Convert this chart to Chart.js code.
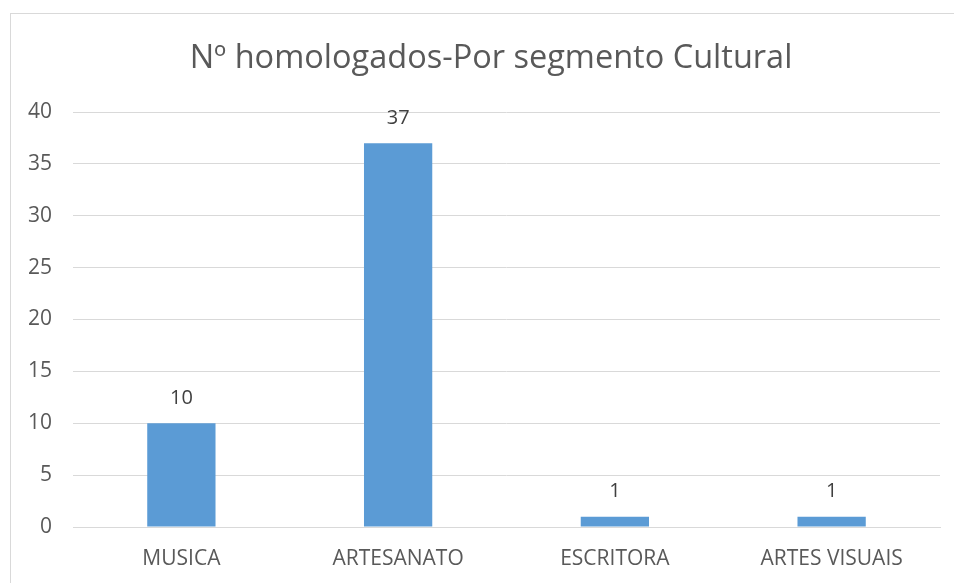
<!DOCTYPE html>
<html>
<head>
<meta charset="utf-8">
<script src="https://cdn.jsdelivr.net/npm/chart.js@4"></script>
<style>
  body { margin: 0; background: #fff; width: 954px; height: 583px; overflow: hidden; position: relative; }
  #box { position: absolute; left: 10px; top: 13px; width: 960px; height: 600px; border: 1px solid #d9d9d9; background: #fff; }
  #chart { position: absolute; left: 0; top: 0; }
</style>
</head>
<body>
<div id="box"><canvas id="chart" width="943" height="569"></canvas></div>
<script>
const categories = ["MUSICA", "ARTESANATO", "ESCRITORA", "ARTES VISUAIS"];
const valores = [10, 37, 1, 1];
const titulo = "Nº homologados-Por segmento Cultural";

const fonte = "'Open Sans', 'Noto Sans', sans-serif";

// título centrado na caixa inteira do gráfico (que passa da borda direita)
const tituloPlugin = {
    id: "tituloPlugin",
    afterDraw(chart) {
        const ctx = chart.ctx;
        ctx.save();
        ctx.font = "32.5px " + fonte;
        ctx.fillStyle = "#595959";
        ctx.textAlign = "center";
        ctx.textBaseline = "middle";
        ctx.fillText(titulo, 480, 45);
        ctx.restore();
    }
};

// rótulos de dados acima das barras
const rotulos = {
    id: "rotulos",
    afterDatasetsDraw(chart) {
        const ctx = chart.ctx;
        const meta = chart.getDatasetMeta(0);
        ctx.save();
        ctx.font = "20px " + fonte;
        ctx.fillStyle = "#404040";
        ctx.textAlign = "center";
        ctx.textBaseline = "middle";
        meta.data.forEach((bar, i) => {
            ctx.fillText(String(valores[i]), bar.x, bar.y - 25);
        });
        ctx.restore();
    }
};

const ctx = document.getElementById("chart").getContext("2d");
const chart = new Chart(ctx, {
    type: 'bar',
    data: {
        labels: categories,
        datasets: [
            {
                data: valores,
                backgroundColor: '#5b9bd5',
                barPercentage: 0.63,
                categoryPercentage: 0.5
            }
        ]
    },
    options: {
        responsive: false,
        animation: false,
        layout: { padding: { left: 0, right: 14, top: 98, bottom: 13 } },
        plugins: {
            legend: { display: false },
            tooltip: { enabled: false },
            title: { display: false }
        },
        scales: {
            x: {
                afterFit: (s) => { s.height = 43; },
                grid: { display: false, drawTicks: false },
                border: { color: '#d9d9d9' },
                ticks: { color: '#595959', font: { family: fonte, size: 21 }, padding: 19 }
            },
            y: {
                min: 0,
                max: 40,
                afterFit: (s) => { s.width = 62; },
                grid: { color: '#d9d9d9', drawTicks: false },
                border: { display: false },
                ticks: { stepSize: 5, color: '#595959', font: { family: fonte, size: 21 }, padding: 21 }
            }
        }
    },
    plugins: [rotulos, tituloPlugin]
});
</script>
</body>
</html>
